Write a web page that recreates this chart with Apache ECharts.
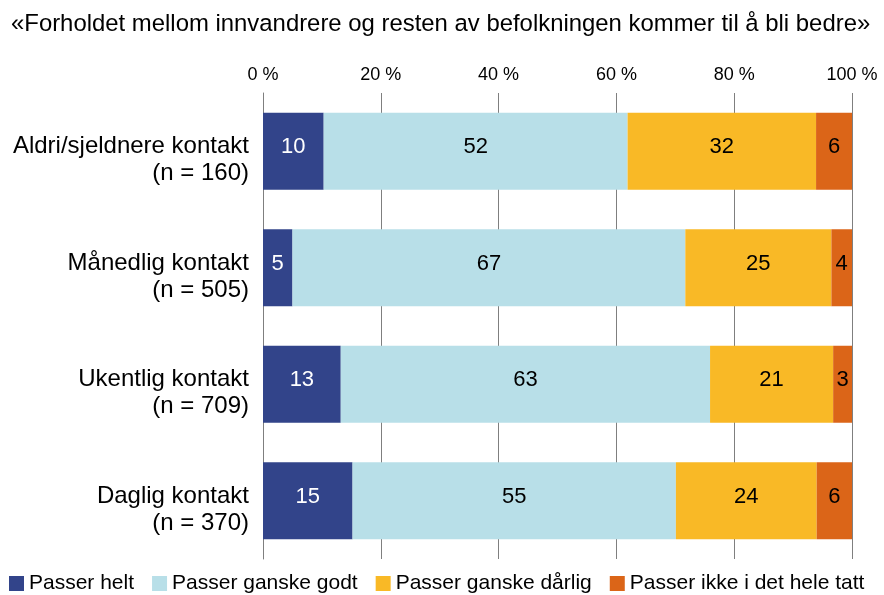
<!DOCTYPE html>
<html>
<head>
<meta charset="utf-8">
<script src="https://cdn.jsdelivr.net/npm/echarts@6/dist/echarts.min.js"></script>
<style>
  html, body { margin: 0; padding: 0; background: #fff; }
  #chart { width: 884px; height: 595px; }
</style>
</head>
<body>
<div id="chart"></div>
<script>
var categories = ['Aldri/sjeldnere kontakt', 'Månedlig kontakt', 'Ukentlig kontakt', 'Daglig kontakt'];
var groupN = [160, 505, 709, 370];
var seriesNames = ['Passer helt', 'Passer ganske godt', 'Passer ganske dårlig', 'Passer ikke i det hele tatt'];
var passerHelt = [10.3, 5.0, 13.2, 15.2];
var ganskeGodt = [51.6, 66.7, 62.7, 54.9];
var ganskeDarlig = [32.0, 24.8, 20.9, 23.9];
var ikkeHeleTatt = [6.1, 3.6, 3.2, 6.0];
var xTicks = [0, 20, 40, 60, 80, 100];

var colors = ['#32448a', '#b8dfe8', '#f9b926', '#db6518'];
var font = 'Liberation Sans, Arial, sans-serif';

var chart = echarts.init(document.getElementById('chart'));

function makeSeries(name, data, idx) {
    return {
        name: name,
        type: 'bar',
        stack: 'all',
        barWidth: '66.3%',
        data: data,
        itemStyle: { color: colors[idx] },
        label: {
            show: true,
            position: 'inside',
            offset: [0, -4],
            color: idx == 0 ? '#fff' : '#000',
            fontFamily: font,
            fontSize: 22,
            formatter: function (p) { return Math.round(p.value); }
        }
    };
}

var option = {
    animation: false,
    title: {
        text: '«Forholdet mellom innvandrere og resten av befolkningen kommer til å bli bedre»',
        left: 6,
        top: 7,
        textStyle: { fontFamily: font, fontSize: 23.9, fontWeight: 'normal', color: '#000' }
    },
    legend: {
        data: seriesNames,
        left: 4,
        top: 568,
        icon: 'rect',
        itemWidth: 15,
        itemHeight: 15,
        itemGap: 18,
        textStyle: { fontFamily: font, fontSize: 21, color: '#000' }
    },
    grid: { left: 263, right: 32, top: 93, bottom: 36 },
    xAxis: {
        type: 'value',
        position: 'top',
        min: xTicks[0],
        max: xTicks[xTicks.length - 1],
        interval: 20,
        axisLine: { show: false },
        axisTick: { show: false },
        axisLabel: {
            fontFamily: font, fontSize: 18, color: '#000', margin: 9,
            formatter: function (v) { return v + ' %'; }
        },
        splitLine: { lineStyle: { color: '#7f7f7f', width: 1 } }
    },
    yAxis: {
        type: 'category',
        inverse: true,
        data: categories,
        axisLine: { show: true, lineStyle: { color: '#7f7f7f' } },
        axisTick: { show: false },
        axisLabel: {
            margin: 14,
            align: 'right',
            formatter: function (v, i) {
                return '{e| }\n{a|' + v + '}\n{a|(n = ' + groupN[i] + ')}';
            },
            rich: {
                e: { fontSize: 10, lineHeight: 18 },
                a: { fontFamily: font, fontSize: 24, color: '#000', lineHeight: 27, align: 'right' }
            }
        }
    },
    series: [
        makeSeries(seriesNames[0], passerHelt, 0),
        makeSeries(seriesNames[1], ganskeGodt, 1),
        makeSeries(seriesNames[2], ganskeDarlig, 2),
        makeSeries(seriesNames[3], ikkeHeleTatt, 3)
    ]
};

chart.setOption(option);
</script>
</body>
</html>
